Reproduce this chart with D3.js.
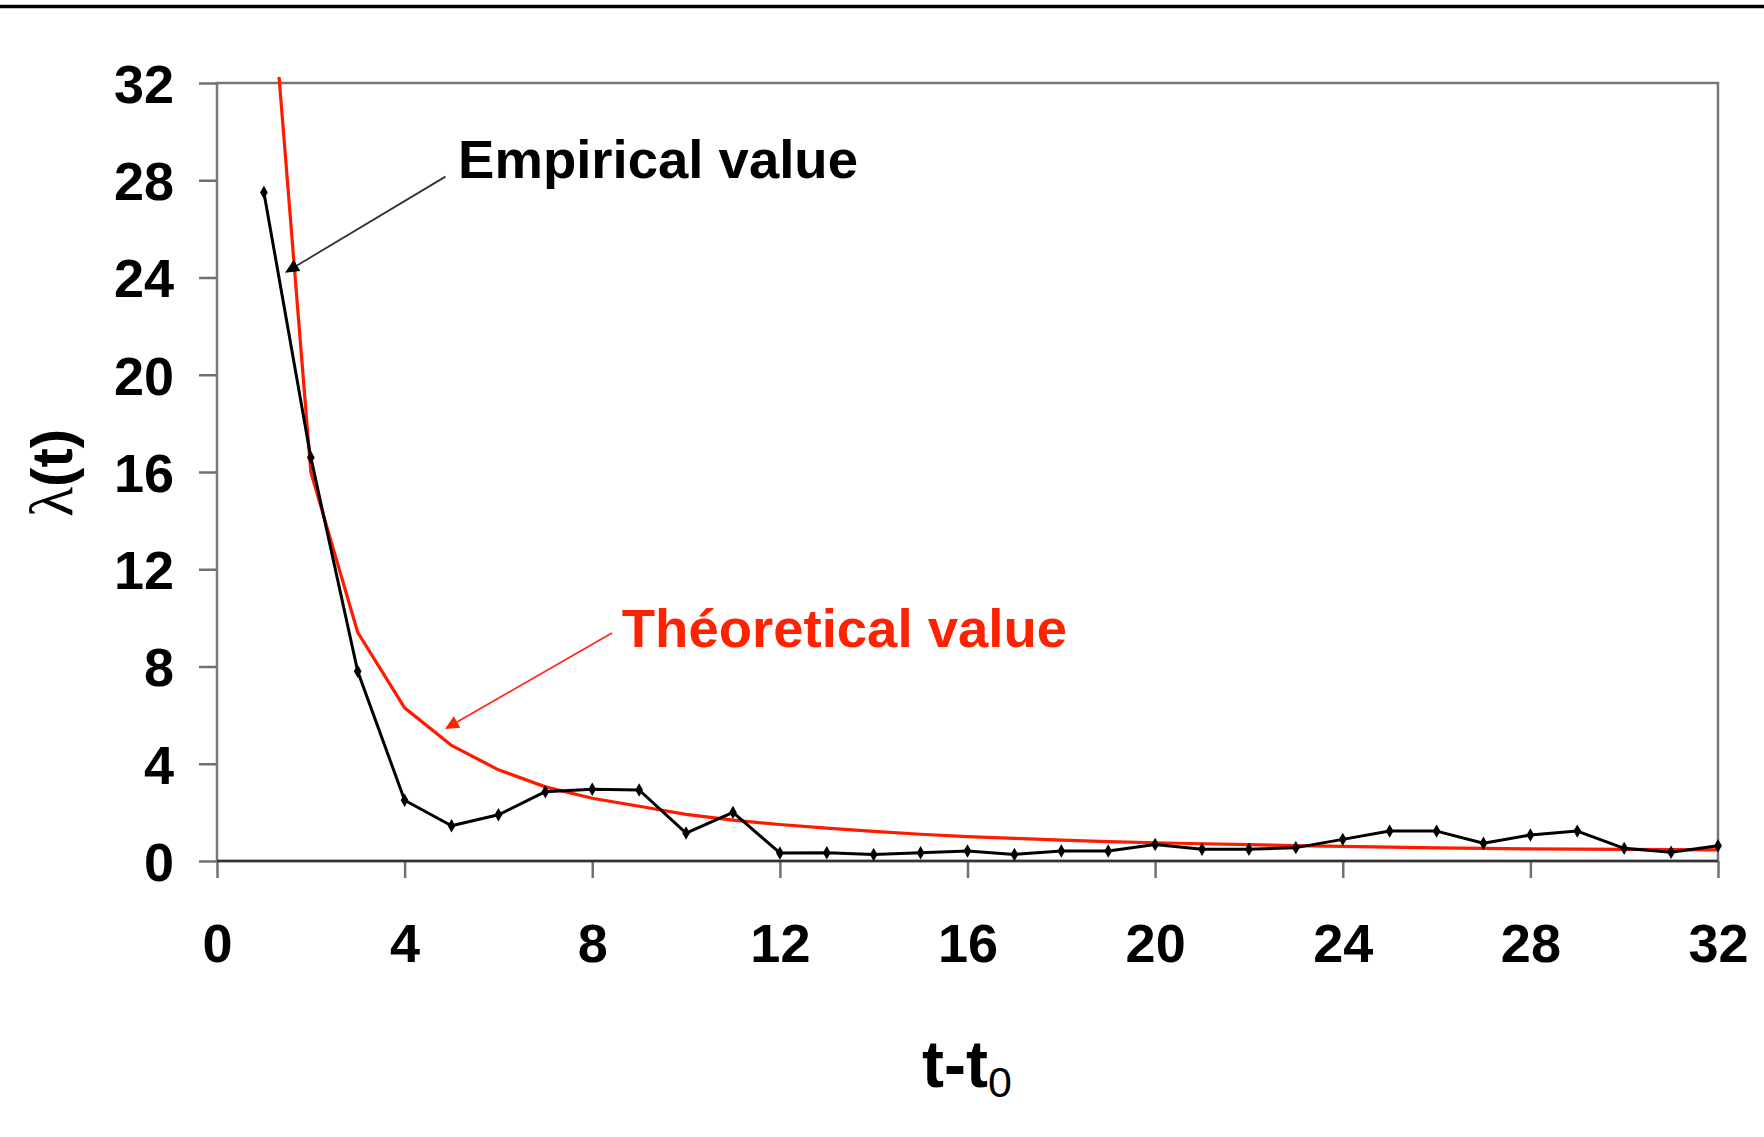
<!DOCTYPE html>
<html>
<head>
<meta charset="utf-8">
<script src="https://cdn.jsdelivr.net/npm/d3@7"></script>
<style>
  html, body { margin: 0; padding: 0; background: #fff; }
  svg { display: block; font-family: "Liberation Sans", Arial, sans-serif; }
  .axis text { font-size: 54px; font-weight: bold; fill: #000; }
  .axis line { stroke: #6f6f6f; stroke-width: 2.5; }
  .axis path { display: none; }
</style>
</head>
<body>
<div id="chart"></div>
<script>
// time since t0
const steps = d3.range(1, 33);

// observed lambda(t)
const empirical = [27.5, 16.6, 7.8, 2.5, 1.45, 1.9, 2.85, 2.95, 2.92, 1.15, 2.0, 0.33,
  0.34, 0.27, 0.34, 0.41, 0.27, 0.41, 0.41, 0.68, 0.48, 0.48, 0.55, 0.89,
  1.23, 1.23, 0.73, 1.07, 1.23, 0.52, 0.36, 0.63];

// fitted lambda(t)
const theoretical = [40.0, 16.0, 9.4, 6.3, 4.75, 3.75, 3.05, 2.58, 2.25, 1.92, 1.68, 1.5,
  1.35, 1.22, 1.1, 1.0, 0.93, 0.86, 0.8, 0.75, 0.71, 0.67, 0.63, 0.6,
  0.57, 0.54, 0.52, 0.5, 0.49, 0.48, 0.47, 0.46];

const xTicks = [0, 4, 8, 12, 16, 20, 24, 28, 32];
const yTicks = [0, 4, 8, 12, 16, 20, 24, 28, 32];

// callouts: [label x, label y, arrow from, arrow to] in data units
const callouts = [
  {text: 'Empirical value', color: '#000', line: '#333', at: [5.14, 28.1], from: [4.87, 28.15], to: [1.45, 24.2]},
  {text: 'Théoretical value', color: '#ff2200', line: '#ff2a1a', at: [8.63, 8.8], from: [8.42, 9.38], to: [4.86, 5.43]}
];

const W = 1764, H = 1137;
const margin = {top: 83, right: 46, bottom: 276, left: 217};
const width = W - margin.left - margin.right,
  height = H - margin.top - margin.bottom;

const x = d3.scaleLinear().domain([0, 32]).range([0, width]);
const y = d3.scaleLinear().domain([0, 32]).range([height, 0]);

const svgTop = d3.select('#chart').append('svg')
  .attr('width', W)
  .attr('height', H);

// rule across the top
svgTop.append('line')
  .attr('x1', 0).attr('x2', W)
  .attr('y1', 6.5).attr('y2', 6.5)
  .attr('stroke', '#000')
  .attr('stroke-width', 3.5);

const svg = svgTop.append('g')
  .attr('transform', `translate(${margin.left},${margin.top})`);

svg.append('defs').append('clipPath')
  .attr('id', 'clip')
  .append('rect')
    .attr('x', 0).attr('y', -6)
    .attr('width', width).attr('height', height + 6);

svg.append('g')
  .attr('class', 'y axis')
  .call(d3.axisLeft(y).tickValues(yTicks).tickSize(18).tickSizeOuter(0).tickPadding(25))
  .selectAll('text').attr('dy', '0.36em');

svg.append('g')
  .attr('class', 'x axis')
  .attr('transform', `translate(0,${height})`)
  .call(d3.axisBottom(x).tickValues(xTicks).tickSize(17).tickSizeOuter(0).tickPadding(46));

svg.selectAll('.x.axis line').attr('stroke', '#444');

// plot frame
svg.append('rect')
  .attr('width', width)
  .attr('height', height)
  .attr('fill', 'none')
  .attr('stroke', '#777')
  .attr('stroke-width', 2.5);

svg.append('line')
  .attr('x1', 0).attr('x2', width)
  .attr('y1', height).attr('y2', height)
  .attr('stroke', '#333')
  .attr('stroke-width', 2.5);

const line = d3.line()
  .x((d, i) => x(steps[i]))
  .y(d => y(d));

svg.append('path')
  .datum(theoretical)
  .attr('clip-path', 'url(#clip)')
  .attr('fill', 'none')
  .attr('stroke', '#ff1a00')
  .attr('stroke-width', 3.2)
  .attr('d', line);

svg.append('path')
  .datum(empirical)
  .attr('fill', 'none')
  .attr('stroke', '#000')
  .attr('stroke-width', 3)
  .attr('stroke-linejoin', 'round')
  .attr('d', line);

svg.selectAll('.pt')
  .data(empirical)
  .enter().append('path')
    .attr('class', 'pt')
    .attr('transform', (d, i) => `translate(${x(steps[i])},${y(d)})`)
    .attr('d', d3.symbol().type(d3.symbolDiamond).size(52)())
    .attr('fill', '#000');

// callout labels with arrows
const arrow = (sel, c) => {
  const x1 = x(c.from[0]), y1 = y(c.from[1]);
  const x2 = x(c.to[0]), y2 = y(c.to[1]);
  const ang = Math.atan2(y2 - y1, x2 - x1);
  const len = 14, half = 6.5;
  const bx = x2 - len * Math.cos(ang), by = y2 - len * Math.sin(ang);
  sel.append('line')
    .attr('x1', x1).attr('y1', y1)
    .attr('x2', bx).attr('y2', by)
    .attr('stroke', c.line)
    .attr('stroke-width', 1.8);
  sel.append('path')
    .attr('d', `M${x2},${y2}L${bx - half * Math.sin(ang)},${by + half * Math.cos(ang)}L${bx + half * Math.sin(ang)},${by - half * Math.cos(ang)}Z`)
    .attr('fill', c.color);
};

callouts.forEach(c => {
  const g = svg.append('g').attr('class', 'callout');
  arrow(g, c);
  g.append('text')
    .attr('x', x(c.at[0]))
    .attr('y', y(c.at[1]))
    .attr('fill', c.color)
    .attr('font-size', 54.5)
    .attr('font-weight', 'bold')
    .text(c.text);
});

// axis titles
const xt = svgTop.append('text')
  .attr('x', 967)
  .attr('y', 1087)
  .attr('text-anchor', 'middle')
  .attr('font-weight', 'bold')
  .attr('font-size', 66);
xt.append('tspan').text('t-t');
xt.append('tspan')
  .attr('dy', 10)
  .attr('font-size', 43)
  .attr('font-weight', 'normal')
  .text('0');

const yt = svgTop.append('text')
  .attr('transform', 'translate(72,473) rotate(-90)')
  .attr('text-anchor', 'middle')
  .attr('font-weight', 'bold')
  .attr('font-size', 58);
yt.append('tspan')
  .attr('font-family', '"Liberation Serif", "DejaVu Serif", serif')
  .attr('font-weight', 'normal')
  .attr('font-size', 62)
  .text('λ');
yt.append('tspan').text('(t)');
</script>
</body>
</html>
